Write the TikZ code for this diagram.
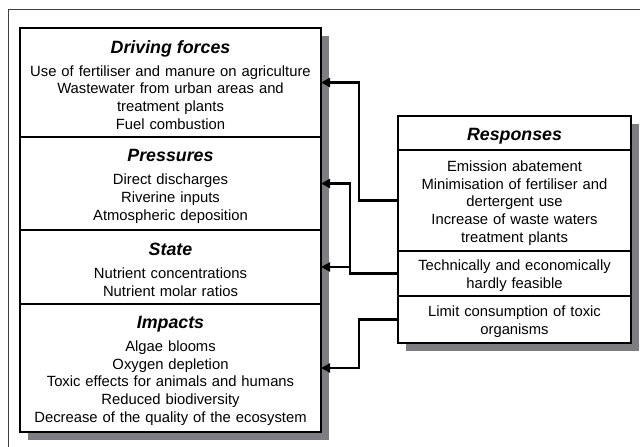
\documentclass[tikz,border=0pt]{standalone}
\usepackage{fontspec}
\setmainfont{Liberation Sans}
\usetikzlibrary{positioning,arrows.meta,backgrounds}
\definecolor{shadowgray}{RGB}{125,125,130}
\newcommand{\sectitle}[1]{\rule{0pt}{18pt}{\fontsize{17.8}{17.7}\selectfont\bfseries\itshape #1}}

\begin{document}
\begin{tikzpicture}[x=1pt,y=-1pt,
  sect/.style={draw, line width=1.1pt, fill=white, outer sep=0pt, inner xsep=5.5pt, inner ysep=0pt,
    align=center, font=\fontsize{14.8}{17.7}\selectfont, execute at begin node={\rule{0pt}{15.5pt}}},
  lsect/.style={sect, text width=290pt},
  rsect/.style={sect, text width=222pt},
  link/.style={line width=2.2pt, -{Triangle[length=9pt,width=9pt]}}]
\useasboundingbox (0,0) rectangle (640,447);
\draw[black!75, line width=0.8pt] (8,447) |- (640,9);

\node[lsect, anchor=north west, minimum height=109pt] (drv) at (20,28)
  {\sectitle{Driving forces}\\[5pt]Use of fertiliser and manure on agriculture\\Wastewater from urban areas and\\treatment plants\\Fuel combustion};
\node[lsect, below=0pt of drv, minimum height=93pt] (prs)
  {\sectitle{Pressures}\\[5pt]Direct discharges\\Riverine inputs\\Atmospheric deposition};
\node[lsect, below=0pt of prs, minimum height=74pt] (sta)
  {\sectitle{State}\\[5pt]Nutrient concentrations\\Nutrient molar ratios};
\node[lsect, below=0pt of sta, minimum height=128pt] (imp)
  {\sectitle{Impacts}\\[5pt]Algae blooms\\Oxygen depletion\\Toxic effects for animals and humans\\Reduced biodiversity\\Decrease of the quality of the ecosystem};

\node[rsect, anchor=north west, minimum height=34pt] (rst) at (398,116) {\sectitle{Responses}};
\node[rsect, below=0pt of rst, minimum height=101pt] (rs1)
  {Emission abatement\\Minimisation of fertiliser and\\dertergent use\\Increase of waste waters\\treatment plants};
\node[rsect, below=0pt of rs1, minimum height=45pt] (rs2) {Technically and economically\\hardly feasible};
\node[rsect, below=0pt of rs2, minimum height=47pt] (rs3) {Limit consumption of toxic\\organisms};

\begin{scope}[on background layer]
\fill[shadowgray] ([shift={(8pt,-8pt)}]drv.north west) rectangle ([shift={(8pt,-8pt)}]imp.south east);
\fill[shadowgray] ([shift={(8pt,-8pt)}]rst.north west) rectangle ([shift={(8pt,-8pt)}]rs3.south east);
\end{scope}

\draw[link] (rs1.west) -- ++(-39pt,0pt) |- (drv.east);
\draw[link] (rs2.west) -- ++(-48pt,0pt) coordinate (j2) |- (prs.east);
\draw[link] (j2) |- (sta.east);
\draw[link] (rs3.west) -- ++(-39pt,0pt) |- (imp.east);
\end{tikzpicture}
\end{document}
